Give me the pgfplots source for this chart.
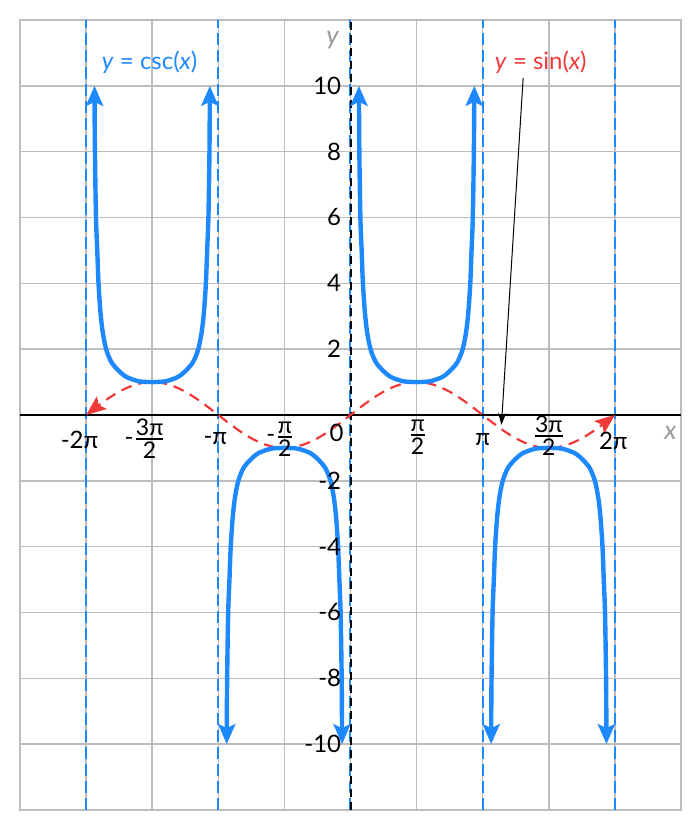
\documentclass[border=0pt]{standalone}
\usepackage{amsmath}
\usepackage{fontspec}
\setmainfont{Lato}
\usepackage{pgfplots}
\usepackage{pgfplotstable}
\pgfplotsset{compat=1.18}
\usetikzlibrary{arrows.meta}
\definecolor{cblue}{HTML}{1E88FF}
\definecolor{cred}{HTML}{F03A3A}
\definecolor{gridgray}{HTML}{BDBDBD}
\newcommand{\fr}[2]{\ensuremath{\genfrac{}{}{0.9pt}{}{\mbox{\fontsize{11.5}{12}\selectfont #1}}{\mbox{\fontsize{11.5}{12}\selectfont #2}}}}

% shape of one csc branch: offset d from the left asymptote, |y|
\pgfplotstableread{
d y
0.20 10
0.21 8
0.235 6
0.265 5
0.295 4
0.343 3.1
0.397 2.5
0.476 2
0.595 1.62
0.754 1.37
0.952 1.16
1.23 1.03
1.40 1.007
1.5708 1.0
1.7416 1.007
1.9116 1.03
2.1896 1.16
2.3876 1.37
2.5466 1.62
2.6656 2
2.7446 2.5
2.7986 3.1
2.8466 4
2.8766 5
2.9066 6
2.9316 8
2.9416 10
}\cscshape

\pgfplotstableread{
x y
-6.2832 0
-6.0214 0.2588
-5.7596 0.5
-5.4978 0.7071
-5.2360 0.8660
-4.9742 0.9659
-4.7124 1
-4.4506 0.9659
-4.1888 0.8660
-3.9270 0.7071
-3.6652 0.5
-3.4034 0.2588
-3.1416 0
-2.8798 -0.2588
-2.6180 -0.5
-2.3562 -0.7071
-2.0944 -0.8660
-1.8326 -0.9659
-1.5708 -1
-1.3090 -0.9659
-1.0472 -0.8660
-0.7854 -0.7071
-0.5236 -0.5
-0.2618 -0.2588
0 0
0.2618 0.2588
0.5236 0.5
0.7854 0.7071
1.0472 0.8660
1.3090 0.9659
1.5708 1
1.8326 0.9659
2.0944 0.8660
2.3562 0.7071
2.6180 0.5
2.8798 0.2588
3.1416 0
3.4034 -0.2588
3.6652 -0.5
3.9270 -0.7071
4.1888 -0.8660
4.4506 -0.9659
4.7124 -1
4.9742 -0.9659
5.2360 -0.8660
5.4978 -0.7071
5.7596 -0.5
6.0214 -0.2588
6.2832 0
}\sinedata

\begin{document}
\begin{tikzpicture}[font=\fontsize{12}{14}\selectfont]
\begin{axis}[
  scale only axis, width=330.5pt, height=395pt,
  xmin=-7.85398, xmax=7.85398, ymin=-12, ymax=12,
  xtick={-7.85398,-6.28319,-4.71239,-3.14159,-1.5708,0,1.5708,3.14159,4.71239,6.28319,7.85398},
  ytick={-12,-10,...,12},
  xticklabels={}, yticklabels={},
  major tick length=0pt,
  grid=major,
  major grid style={gridgray, line width=0.75pt},
  axis line style={gridgray, line width=0.75pt},
  clip=false,
]
% asymptotes
\addplot[cblue, line width=1pt, dash pattern=on 6pt off 2.5pt] coordinates {(-6.28319,-12) (-6.28319,12)};
\addplot[cblue, line width=1pt, dash pattern=on 6pt off 2.5pt] coordinates {(-3.14159,-12) (-3.14159,12)};
\addplot[cblue, line width=1pt, dash pattern=on 6pt off 2.5pt] coordinates {(3.14159,-12) (3.14159,12)};
\addplot[cblue, line width=1pt, dash pattern=on 6pt off 2.5pt] coordinates {(6.28319,-12) (6.28319,12)};
\addplot[cblue, line width=1pt, dash pattern=on 6pt off 2.5pt, xshift=-0.5pt] coordinates {(0,-12) (0,12)};
% axes
\addplot[black, line width=1pt] coordinates {(-7.85398,0) (7.85398,0)};
\addplot[black, line width=1pt, dash pattern=on 4pt off 2.5pt, xshift=0.3pt] coordinates {(0,-12) (0,12)};
% sine
\addplot[cred, line width=1.1pt, dash pattern=on 5.5pt off 3.5pt, smooth,
  {Stealth[length=10pt,width=8pt,inset=2pt]}-{Stealth[length=10pt,width=8pt,inset=2pt]}]
  table[x=x, y=y] {\sinedata};
% csc branches
\addplot[cblue, line width=2.2pt, smooth,
  {Stealth[length=10pt,width=8.5pt,inset=2pt]}-{Stealth[length=10pt,width=8.5pt,inset=2pt]}]
  table[x expr=\thisrow{d}-6.28319, y expr=\thisrow{y}] {\cscshape};
\addplot[cblue, line width=2.2pt, smooth,
  {Stealth[length=10pt,width=8.5pt,inset=2pt]}-{Stealth[length=10pt,width=8.5pt,inset=2pt]}]
  table[x expr=\thisrow{d}-3.14159, y expr=-\thisrow{y}] {\cscshape};
\addplot[cblue, line width=2.2pt, smooth,
  {Stealth[length=10pt,width=8.5pt,inset=2pt]}-{Stealth[length=10pt,width=8.5pt,inset=2pt]}]
  table[x expr=\thisrow{d}, y expr=\thisrow{y}] {\cscshape};
\addplot[cblue, line width=2.2pt, smooth,
  {Stealth[length=10pt,width=8.5pt,inset=2pt]}-{Stealth[length=10pt,width=8.5pt,inset=2pt]}]
  table[x expr=\thisrow{d}+3.14159, y expr=-\thisrow{y}] {\cscshape};
% annotation arrow
\addplot[black, line width=0.5pt, -{Stealth[length=6pt,width=4pt]}] coordinates {(4.103,10.24) (3.587,-0.30)};
% x tick labels
\node[xshift=-3.25pt, yshift=-12.5pt] at (axis cs:-6.28319,0) {-2π};
\node[xshift=-3.5pt, yshift=-12pt] at (axis cs:-4.71239,0) {-\fr{3π}{2}};
\node[xshift=-1.5pt, yshift=-12pt] at (axis cs:-3.14159,0) {-π};
\node[xshift=-2pt, yshift=-12pt] at (axis cs:-1.5708,0) {-\fr{π}{2}};
\node[xshift=-7pt, yshift=-8.75pt] at (axis cs:0,0) {0};
\node[xshift=0.5pt, yshift=-11pt] at (axis cs:1.5708,0) {\fr{π}{2}};
\node[xshift=0pt, yshift=-12.5pt] at (axis cs:3.14159,0) {π};
\node[xshift=0pt, yshift=-10.5pt] at (axis cs:4.71239,0) {\fr{3π}{2}};
\node[xshift=-0.75pt, yshift=-13pt] at (axis cs:6.28319,0) {2π};
% y tick labels
\node[anchor=east, xshift=-4.5pt, inner sep=0pt] at (axis cs:0,10) {10};
\node[anchor=east, xshift=-4.5pt, inner sep=0pt] at (axis cs:0,8) {8};
\node[anchor=east, xshift=-4.5pt, inner sep=0pt] at (axis cs:0,6) {6};
\node[anchor=east, xshift=-4.5pt, inner sep=0pt] at (axis cs:0,4) {4};
\node[anchor=east, xshift=-4.5pt, inner sep=0pt] at (axis cs:0,2) {2};
\node[anchor=east, xshift=-4.5pt, inner sep=0pt] at (axis cs:0,-2) {-2};
\node[anchor=east, xshift=-4.5pt, inner sep=0pt] at (axis cs:0,-4) {-4};
\node[anchor=east, xshift=-4.5pt, inner sep=0pt] at (axis cs:0,-6) {-6};
\node[anchor=east, xshift=-4.5pt, inner sep=0pt] at (axis cs:0,-8) {-8};
\node[anchor=east, xshift=-4.5pt, inner sep=0pt] at (axis cs:0,-10) {-10};
% axis names
\node[text=gray!80, font=\fontsize{13}{15}\selectfont\itshape, xshift=-9pt] at (axis cs:0,11.4) {y};
\node[text=gray!80, font=\fontsize{13}{15}\selectfont\itshape, xshift=-5.3pt, yshift=-9pt] at (axis cs:7.85398,0) {x};
% function labels
\node[text=cblue, xshift=-1.3pt] at (axis cs:-4.71239,10.73) {\textit{y} = csc(\textit{x})};
\node[text=cred, xshift=-4pt] at (axis cs:4.71239,10.73) {\textit{y} = sin(\textit{x})};
\end{axis}
\path ([shift={(-10pt,-10pt)}]current axis.south west) rectangle ([shift={(9.5pt,10pt)}]current axis.north east);
\end{tikzpicture}
\end{document}
